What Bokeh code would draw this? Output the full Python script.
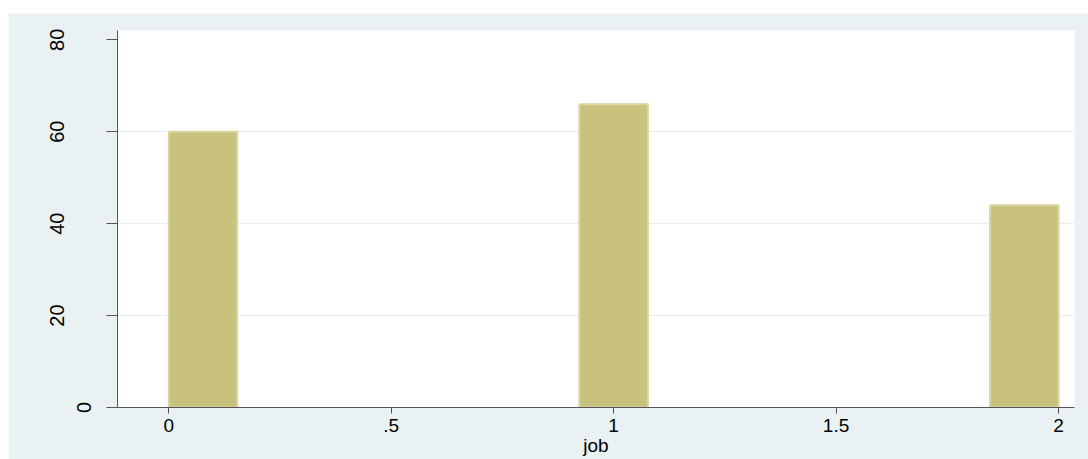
import math
from bokeh.plotting import figure
from bokeh.models import FixedTicker
from bokeh.embed import file_html
from bokeh.resources import INLINE

# ---- data ----
job_values = [0, 1, 2]
frequencies = [60, 66, 44]
n_bins = 13
x_ticks = [0, 0.5, 1, 1.5, 2]
x_tick_labels = ["0", ".5", "1", "1.5", "2"]
y_ticks = [0, 20, 40, 60, 80]
y_tick_labels = ["0", "20", "40", "60", "80"]
x_label = "job"

# histogram bins over the data range
lo, hi = min(job_values), max(job_values)
bw = (hi - lo) / n_bins
lefts, rights = [], []
for v in job_values:
    idx = min(int(math.floor((v - lo) / bw)), n_bins - 1)
    lefts.append(lo + idx * bw)
    rights.append(lo + (idx + 1) * bw)

BG = "#E9F1F3"
FONT = "Liberation Sans"

p = figure(
    frame_width=957, frame_height=377,
    x_range=(-0.1153, 2.036), y_range=(0, 82.03),
    output_backend="svg", toolbar_location=None,
    min_border_left=109, min_border_right=14, min_border_top=17, min_border_bottom=52,
    background_fill_color="white", border_fill_color=BG,
)
p.margin = (13, 0, 0, 8)
p.outline_line_color = None

p.quad(left=lefts, right=rights, bottom=0, top=frequencies,
       fill_color="#C9C27F", line_color="#D9D59E", line_width=2)

# grid
p.xgrid.visible = False
p.ygrid.ticker = FixedTicker(ticks=[20, 40, 60])
p.ygrid.grid_line_color = "#E6EEF0"
p.ygrid.grid_line_width = 1

# x axis
p.xaxis.ticker = FixedTicker(ticks=x_ticks)
p.xaxis.major_label_overrides = {t: l for t, l in zip(x_ticks, x_tick_labels)}
p.xaxis.minor_tick_line_color = None
p.xaxis.major_tick_in = 0
p.xaxis.major_tick_out = 6
p.xaxis.major_label_standoff = 5
p.xaxis.major_label_text_font = FONT
p.xaxis.major_label_text_font_size = "19px"
p.xaxis.major_label_text_color = "black"
p.xaxis.axis_label = x_label
p.xaxis.axis_label_text_font = FONT
p.xaxis.axis_label_text_font_size = "19px"
p.xaxis.axis_label_text_font_style = "normal"
p.xaxis.axis_label_text_color = "black"
p.xaxis.axis_label_standoff = 0
p.xaxis.axis_line_color = "#555555"
p.xaxis.major_tick_line_color = "#555555"

# y axis
p.yaxis.ticker = FixedTicker(ticks=y_ticks)
overrides = {t: (l if t == 0 else l + "\n") for t, l in zip(y_ticks, y_tick_labels)}
p.yaxis.major_label_overrides = overrides
p.yaxis.major_label_orientation = "vertical"
p.yaxis.minor_tick_line_color = None
p.yaxis.major_tick_in = 0
p.yaxis.major_tick_out = 11
p.yaxis.major_label_standoff = 12
p.yaxis.major_label_text_font = FONT
p.yaxis.major_label_text_font_size = "20px"
p.yaxis.major_label_text_color = "black"
p.yaxis.axis_line_color = "#555555"
p.yaxis.major_tick_line_color = "#555555"

open("out.html", "w").write(file_html(p, INLINE))
